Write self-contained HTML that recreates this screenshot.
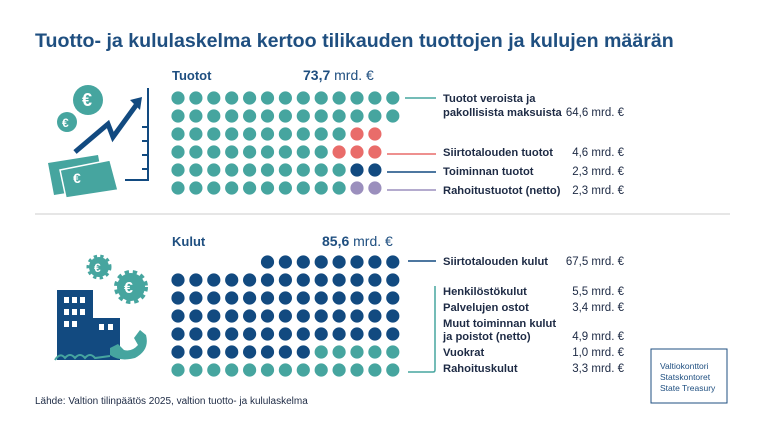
<!DOCTYPE html>
<html><head><meta charset="utf-8"><style>
html,body{margin:0;padding:0;background:#fff}
svg{display:block;font-family:"Liberation Sans",sans-serif}
.l{font-size:11.2px;font-weight:bold;fill:#1d2a44}
.v{font-size:11.5px;fill:#1d2a44;text-anchor:end}
</style></head><body>
<svg width="768" height="432" viewBox="0 0 768 432" xmlns="http://www.w3.org/2000/svg">
<rect width="768" height="432" fill="#fff"/>
<text x="35" y="47" font-size="19.6" font-weight="bold" fill="#1f4f80">Tuotto- ja kululaskelma kertoo tilikauden tuottojen ja kulujen määrän</text>
<text x="172" y="80" font-size="13" font-weight="bold" fill="#1f4f80">Tuotot</text>
<text x="303" y="80" font-size="14" fill="#1f4f80"><tspan font-weight="bold">73,7</tspan> mrd. €</text>
<text x="172" y="246" font-size="13" font-weight="bold" fill="#1f4f80">Kulut</text>
<text x="322" y="246" font-size="14" fill="#1f4f80"><tspan font-weight="bold">85,6</tspan> mrd. €</text>
<line x1="35" y1="214" x2="730" y2="214" stroke="#ddd" stroke-width="1.5"/>
<g id="dots"></g>
<line x1="405" y1="98" x2="436" y2="98" stroke="#46a59f" stroke-width="1.5"/>
<line x1="387" y1="154" x2="436" y2="154" stroke="#e96c6a" stroke-width="1.5"/>
<line x1="387" y1="172" x2="436" y2="172" stroke="#124a80" stroke-width="1.5"/>
<line x1="387" y1="190" x2="436" y2="190" stroke="#9b8fbd" stroke-width="1.5"/>
<line x1="408" y1="261" x2="436" y2="261" stroke="#124a80" stroke-width="1.5"/>
<path d="M408 372 H433 Q435 372 435 370 V286" fill="none" stroke="#46a59f" stroke-width="1.5"/>
<text class="l" x="443" y="102">Tuotot veroista ja</text>
<text class="l" x="443" y="116">pakollisista maksuista</text><text class="v" x="624" y="116">64,6 mrd. €</text>
<text class="l" x="443" y="156">Siirtotalouden tuotot</text><text class="v" x="624" y="156">4,6 mrd. €</text>
<text class="l" x="443" y="175">Toiminnan tuotot</text><text class="v" x="624" y="175">2,3 mrd. €</text>
<text class="l" x="443" y="194">Rahoitustuotot (netto)</text><text class="v" x="624" y="194">2,3 mrd. €</text>
<text class="l" x="443" y="265">Siirtotalouden kulut</text><text class="v" x="624" y="265">67,5 mrd. €</text>
<text class="l" x="443" y="295">Henkilöstökulut</text><text class="v" x="624" y="295">5,5 mrd. €</text>
<text class="l" x="443" y="311">Palvelujen ostot</text><text class="v" x="624" y="311">3,4 mrd. €</text>
<text class="l" x="443" y="327">Muut toiminnan kulut</text>
<text class="l" x="443" y="340">ja poistot (netto)</text><text class="v" x="624" y="340">4,9 mrd. €</text>
<text class="l" x="443" y="356">Vuokrat</text><text class="v" x="624" y="356">1,0 mrd. €</text>
<text class="l" x="443" y="372">Rahoituskulut</text><text class="v" x="624" y="372">3,3 mrd. €</text>
<text x="35" y="404" font-size="10" fill="#1d2a44">Lähde: Valtion tilinpäätös 2025, valtion tuotto- ja kululaskelma</text>
<rect x="651" y="349" width="76" height="54" fill="none" stroke="#1f4f80" stroke-width="1"/>
<text x="660" y="369" font-size="8.5" fill="#1f4f80">Valtiokonttori</text>
<text x="660" y="380" font-size="8.5" fill="#1f4f80">Statskontoret</text>
<text x="660" y="391" font-size="8.5" fill="#1f4f80">State Treasury</text>
<g fill="#46a59f">
<circle cx="88" cy="100" r="15"/><circle cx="67" cy="122" r="10"/>
<polygon points="48,163 98,155 104,187 54,195"/>
<polygon points="60,170 110,160 118,190 66,198" fill="#46a59f" stroke="#fff" stroke-width="1.5"/>
</g>
<text x="82" y="106" font-size="18" font-weight="bold" fill="#fff">€</text>
<text x="62" y="127" font-size="12" font-weight="bold" fill="#fff">€</text>
<text x="73" y="183" font-size="14" font-weight="bold" fill="#fff">€</text>
<path d="M148 88 V180 H125 M142 127 H148 M142 141 H148 M142 155 H148 M142 169 H148" fill="none" stroke="#124a80" stroke-width="2"/>
<polyline points="75,152 108,124 113,137 137,104" fill="none" stroke="#124a80" stroke-width="5"/>
<polygon points="130,100 142,97 140,110" fill="#124a80"/>
<g fill="#46a59f">
<circle cx="99" cy="267" r="10" stroke="#46a59f" stroke-width="5" stroke-dasharray="3 3"/>
<circle cx="131" cy="287" r="14" stroke="#46a59f" stroke-width="6" stroke-dasharray="4 3.5"/>
</g>
<text x="94" y="272" font-size="12" font-weight="bold" fill="#fff">€</text>
<text x="124" y="293" font-size="16" font-weight="bold" fill="#fff">€</text>
<rect x="57" y="290" width="36" height="70" fill="#124a80"/>
<rect x="93" y="318" width="27" height="42" fill="#124a80"/>
<g fill="#fff">
<rect x="64" y="297" width="5" height="6"/><rect x="72" y="297" width="5" height="6"/><rect x="80" y="297" width="5" height="6"/>
<rect x="64" y="309" width="5" height="6"/><rect x="72" y="309" width="5" height="6"/><rect x="80" y="309" width="5" height="6"/>
<rect x="64" y="321" width="5" height="6"/><rect x="72" y="321" width="5" height="6"/>
<rect x="99" y="324" width="5" height="6"/><rect x="108" y="324" width="5" height="6"/>
</g>
<path d="M110 355 Q120 362 135 358 Q150 350 146 335 L140 330 L134 338 L138 345 Q132 352 124 350 L118 344 L110 348 Z" fill="#46a59f"/>
<path d="M55 360 Q60 352 65 358 Q70 352 75 358 Q80 352 85 358 Q90 352 95 358 L110 356" fill="none" stroke="#46a59f" stroke-width="2"/>
</svg>
<script>
var g=document.getElementById('dots'),T='#46a59f',R='#e96c6a',N='#124a80',P='#9b8fbd';
function row(y,cols){cols.forEach(function(c,i){if(!c)return;var e=document.createElementNS('http://www.w3.org/2000/svg','circle');e.setAttribute('cx',178+i*17.9);e.setAttribute('cy',y);e.setAttribute('r',6.6);e.setAttribute('fill',c);g.appendChild(e);});}
function rep(c,n){var a=[];for(var i=0;i<n;i++)a.push(c);return a;}
row(98,rep(T,13));row(116,rep(T,13));
row(134,rep(T,10).concat([R,R]));row(152,rep(T,9).concat([R,R,R]));
row(170,rep(T,10).concat([N,N]));row(188,rep(T,10).concat([P,P]));
row(262,rep(null,5).concat(rep(N,8)));
for(var k=0;k<4;k++)row(280+k*18,rep(N,13));
row(352,rep(N,8).concat(rep(T,5)));row(370,rep(T,13));
</script>
</body></html>
